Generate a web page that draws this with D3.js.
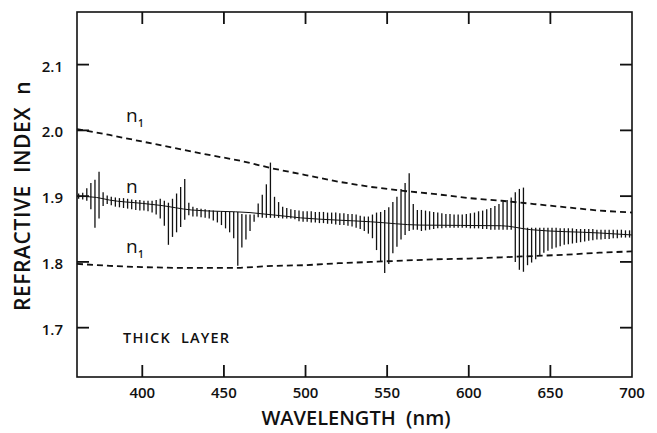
<!DOCTYPE html>
<html>
<head>
<meta charset="utf-8">
<script src="https://cdn.jsdelivr.net/npm/d3@7"></script>
<style>
  body { margin: 0; background: #fff; }
  svg { display: block; }
  text { fill: #111; }
</style>
</head>
<body>
<svg id="chart" width="657" height="433"></svg>
<script>
// Measured refractive index of the thick layer: one bar per sample wavelength,
// spanning the low and high value of the interference oscillation.
const barWavelength = [
  361, 363.5, 366, 368.5, 371, 373.5, 376, 378.5, 381, 383.5, 386, 388.5, 391, 393.5, 396, 398.5,
  401, 403.5, 406, 408.5, 411, 413.5, 416, 418.5, 421, 423.5, 426, 428.5, 431, 433.5, 436, 438.5,
  441, 443.5, 446, 448.5, 451, 453.5, 456, 458.5, 461, 463.5, 466, 468.5, 471, 473.5, 476, 478.5,
  481, 483.5, 486, 488.5, 491, 493.5, 496, 498.5, 501, 503.5, 506, 508.5, 511, 513.5, 516, 518.5,
  521, 523.5, 526, 528.5, 531, 533.5, 536, 538.5, 541, 543.5, 546, 548.5, 551, 553.5, 556, 558.5,
  561, 563.5, 566, 568.5, 571, 573.5, 576, 578.5, 581, 583.5, 586, 588.5, 591, 593.5, 596, 598.5,
  601, 603.5, 606, 608.5, 611, 613.5, 616, 618.5, 621, 623.5, 626, 628.5, 631, 633.5, 636, 638.5,
  641, 643.5, 646, 648.5, 651, 653.5, 656, 658.5, 661, 663.5, 666, 668.5, 671, 673.5, 676, 678.5,
  681, 683.5, 686, 688.5, 691, 693.5, 696, 698.5
];
const barHigh = [
  1.904, 1.905, 1.912, 1.920, 1.925, 1.937, 1.906, 1.901, 1.899, 1.898, 1.897, 1.897, 1.896, 1.895, 1.894, 1.894,
  1.893, 1.893, 1.893, 1.894, 1.896, 1.893, 1.890, 1.896, 1.904, 1.914, 1.926, 1.890, 1.884, 1.882, 1.881, 1.880,
  1.879, 1.878, 1.877, 1.877, 1.876, 1.876, 1.876, 1.876, 1.873, 1.872, 1.872, 1.872, 1.889, 1.902, 1.918, 1.951,
  1.899, 1.891, 1.884, 1.882, 1.880, 1.879, 1.878, 1.877, 1.877, 1.877, 1.876, 1.876, 1.876, 1.875, 1.875, 1.875,
  1.874, 1.874, 1.873, 1.873, 1.872, 1.870, 1.869, 1.869, 1.872, 1.875, 1.876, 1.879, 1.883, 1.891, 1.899, 1.911,
  1.920, 1.935, 1.888, 1.879, 1.879, 1.878, 1.877, 1.876, 1.875, 1.874, 1.873, 1.873, 1.872, 1.872, 1.872, 1.873,
  1.874, 1.875, 1.877, 1.878, 1.880, 1.882, 1.885, 1.888, 1.891, 1.894, 1.898, 1.906, 1.911, 1.913, 1.852, 1.852,
  1.852, 1.852, 1.852, 1.852, 1.852, 1.852, 1.851, 1.851, 1.851, 1.851, 1.850, 1.850, 1.850, 1.850, 1.850, 1.849,
  1.849, 1.849, 1.849, 1.849, 1.849, 1.849, 1.848, 1.848
];
const barLow = [
  1.896, 1.895, 1.893, 1.880, 1.852, 1.866, 1.885, 1.888, 1.886, 1.884, 1.883, 1.882, 1.881, 1.880, 1.879, 1.878,
  1.878, 1.877, 1.875, 1.872, 1.866, 1.855, 1.826, 1.838, 1.845, 1.853, 1.864, 1.871, 1.869, 1.869, 1.868, 1.867,
  1.866, 1.863, 1.860, 1.856, 1.851, 1.845, 1.836, 1.794, 1.822, 1.834, 1.847, 1.861, 1.868, 1.867, 1.867, 1.867,
  1.867, 1.867, 1.866, 1.866, 1.866, 1.865, 1.862, 1.861, 1.861, 1.860, 1.860, 1.859, 1.859, 1.858, 1.858, 1.857,
  1.856, 1.856, 1.855, 1.854, 1.852, 1.850, 1.847, 1.843, 1.836, 1.818, 1.800, 1.783, 1.797, 1.813, 1.823, 1.834,
  1.841, 1.847, 1.849, 1.849, 1.847, 1.848, 1.849, 1.850, 1.851, 1.851, 1.852, 1.852, 1.852, 1.852, 1.852, 1.852,
  1.851, 1.851, 1.851, 1.850, 1.850, 1.849, 1.849, 1.849, 1.849, 1.849, 1.849, 1.800, 1.788, 1.785, 1.795, 1.799,
  1.804, 1.810, 1.814, 1.817, 1.820, 1.822, 1.824, 1.826, 1.827, 1.828, 1.829, 1.830, 1.831, 1.832, 1.833, 1.834,
  1.834, 1.835, 1.835, 1.836, 1.836, 1.837, 1.837, 1.837
];

// Mean index line running through the oscillation bars
const meanWavelength = [360, 372, 380, 400, 411, 430, 466, 497, 540, 570, 620, 638, 680, 700];
const meanIndex      = [1.900, 1.898, 1.894, 1.889, 1.886, 1.879, 1.875, 1.867, 1.861, 1.856, 1.855, 1.849, 1.844, 1.841];

// Upper and lower n1 curves (dashed)
const n1Wavelength  = [360, 380, 400, 420, 440, 460, 480, 500, 520, 540, 560, 580, 600, 620, 640, 660, 680, 700];
const n1UpperIndex  = [2.002, 1.993, 1.983, 1.973, 1.963, 1.954, 1.942, 1.932, 1.922, 1.914, 1.908, 1.903, 1.897, 1.893, 1.888, 1.883, 1.878, 1.875];
const n1LowerIndex  = [1.797, 1.794, 1.792, 1.791, 1.791, 1.791, 1.794, 1.795, 1.798, 1.800, 1.802, 1.804, 1.805, 1.807, 1.809, 1.811, 1.814, 1.816];

const xTickValues = [400, 450, 500, 550, 600, 650, 700];
const yTickValues = [1.7, 1.8, 1.9, 2.0, 2.1];
const yTickLabels = ["1.7", "1.8", "1.9", "2.0", "2.1"];

const svg = d3.select("#chart");
const plot = { left: 77, right: 632, top: 12, bottom: 377 };
const tickLen = 12;
const tickW = 1.8;
const ink = "#111";
const labelFont = "'Open Sans', 'DejaVu Sans', sans-serif";

const x = d3.scaleLinear().domain([360, 700]).range([plot.left, plot.right]);
const y = d3.scaleLinear().domain([1.625, 2.18]).range([plot.bottom, plot.top]);

// Frame
svg.append("rect")
  .attr("x", plot.left).attr("y", plot.top)
  .attr("width", plot.right - plot.left).attr("height", plot.bottom - plot.top)
  .attr("fill", "none").attr("stroke", ink).attr("stroke-width", 1.6);

// Inward tick marks drawn as thin filled rectangles
const innerX = xTickValues.filter(v => v < 700);
const tickG = svg.append("g").attr("class", "tick-marks");
tickG.selectAll("rect.xb").data(innerX).join("rect").attr("class", "xb")
  .attr("x", d => x(d) - tickW / 2).attr("y", plot.bottom - tickLen)
  .attr("width", tickW).attr("height", tickLen)
  .attr("fill", ink);
tickG.selectAll("rect.xt").data(innerX).join("rect").attr("class", "xt")
  .attr("x", d => x(d) - tickW / 2).attr("y", plot.top)
  .attr("width", tickW).attr("height", tickLen)
  .attr("fill", ink);
tickG.selectAll("rect.yl").data(yTickValues).join("rect").attr("class", "yl")
  .attr("x", plot.left).attr("y", d => y(d) - tickW / 2)
  .attr("width", tickLen).attr("height", tickW)
  .attr("fill", ink);
tickG.selectAll("rect.yr").data(yTickValues).join("rect").attr("class", "yr")
  .attr("x", plot.right - tickLen).attr("y", d => y(d) - tickW / 2)
  .attr("width", tickLen).attr("height", tickW)
  .attr("fill", ink);

// Tick labels
svg.append("g").selectAll("text").data(xTickValues).join("text")
  .attr("x", d => x(d)).attr("y", 398)
  .attr("text-anchor", "middle")
  .style("font-family", labelFont).style("font-size", "15px").style("font-weight", "600")
  .text(d => d);
svg.append("g").selectAll("text").data(yTickValues).join("text")
  .attr("x", 63).attr("y", d => y(d) + 7)
  .attr("text-anchor", "end")
  .style("font-family", labelFont).style("font-size", "15px").style("font-weight", "600")
  .text((d, i) => yTickLabels[i]);

// Dashed n1 curves
const n1Line = d3.line().x(d => x(d[0])).y(d => y(d[1]));
[n1UpperIndex, n1LowerIndex].forEach(series => {
  svg.append("path")
    .datum(n1Wavelength.map((w, i) => [w, series[i]]))
    .attr("d", n1Line)
    .attr("fill", "none")
    .attr("stroke", ink)
    .attr("stroke-width", 1.8)
    .attr("stroke-dasharray", "6,4");
});

// Oscillation bars
svg.append("g").selectAll("line").data(barWavelength).join("line")
  .attr("x1", d => x(d)).attr("x2", d => x(d))
  .attr("y1", (d, i) => y(barHigh[i]))
  .attr("y2", (d, i) => y(barLow[i]))
  .attr("stroke", ink)
  .attr("stroke-width", 1.3);

// Mean index line
svg.append("path")
  .datum(meanWavelength.map((w, i) => [w, meanIndex[i]]))
  .attr("d", d3.line().x(d => x(d[0])).y(d => y(d[1])).curve(d3.curveMonotoneX))
  .attr("fill", "none")
  .attr("stroke", ink)
  .attr("stroke-width", 1.0);

// Curve labels: "n" with an optional small subscript
function curveLabel(px, py, sub) {
  svg.append("text")
    .attr("x", px).attr("y", py)
    .style("font-family", labelFont)
    .style("font-size", "19px")
    .style("font-weight", "500")
    .text("n");
  if (sub) {
    svg.append("text")
      .attr("x", px + 12).attr("y", py + 5)
      .style("font-family", labelFont)
      .style("font-size", "10px")
      .style("font-weight", "600")
      .text(sub);
  }
}
curveLabel(126, 122, "1");
curveLabel(126, 193, null);
curveLabel(126, 253, "1");

svg.append("text")
  .attr("x", 123).attr("y", 343)
  .style("font-family", labelFont)
  .style("font-size", "14.5px")
  .style("font-weight", "600")
  .style("letter-spacing", "1.2px")
  .style("white-space", "pre")
  .text("THICK  LAYER");

// Axis titles
svg.append("text")
  .attr("x", 356).attr("y", 425)
  .attr("text-anchor", "middle")
  .style("font-family", labelFont)
  .style("font-size", "20px")
  .style("font-weight", "600")
  .style("white-space", "pre")
  .text("WAVELENGTH  (nm)");

svg.append("text")
  .attr("transform", "translate(30,196) rotate(-90)")
  .attr("text-anchor", "middle")
  .style("font-family", labelFont)
  .style("font-size", "21px")
  .style("font-weight", "600")
  .style("letter-spacing", "0.6px")
  .style("white-space", "pre")
  .text("REFRACTIVE  INDEX  n");
</script>
</body>
</html>
